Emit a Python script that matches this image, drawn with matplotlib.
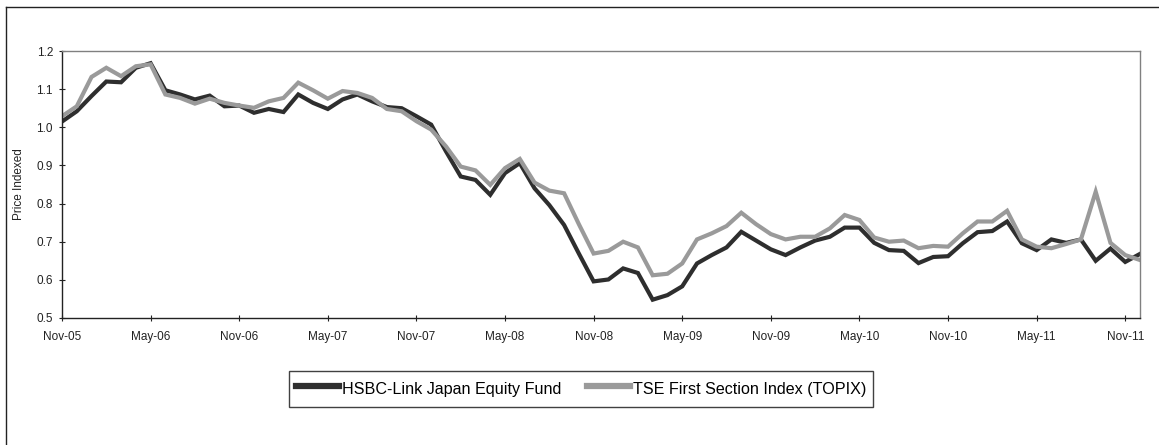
import matplotlib.pyplot as plt
from matplotlib.lines import Line2D

# monthly values, Nov-05 .. Dec-11
fund = [1.015, 1.042, 1.082, 1.12, 1.118, 1.156, 1.168, 1.097, 1.086, 1.073,
        1.083, 1.055, 1.057, 1.038, 1.048, 1.04, 1.086, 1.064, 1.048, 1.073,
        1.086, 1.068, 1.053, 1.05, 1.029, 1.007, 0.937, 0.871, 0.862, 0.823,
        0.88, 0.906, 0.84, 0.796, 0.744, 0.669, 0.596, 0.601, 0.63, 0.618,
        0.548, 0.56, 0.583, 0.643, 0.665, 0.685, 0.726, 0.703, 0.68, 0.665,
        0.685, 0.703, 0.713, 0.737, 0.737, 0.697, 0.678, 0.676, 0.644, 0.66,
        0.662, 0.696, 0.725, 0.728, 0.753, 0.696, 0.678, 0.706, 0.697, 0.706,
        0.65, 0.682, 0.647, 0.668]
topix = [1.029, 1.055, 1.132, 1.156, 1.134, 1.16, 1.165, 1.086, 1.077, 1.062,
         1.075, 1.064, 1.057, 1.051, 1.068, 1.077, 1.117, 1.097, 1.075, 1.095,
         1.09, 1.077, 1.048, 1.042, 1.016, 0.994, 0.95, 0.897, 0.887, 0.849,
         0.893, 0.917, 0.855, 0.834, 0.827, 0.746, 0.669, 0.676, 0.7, 0.685,
         0.612, 0.616, 0.643, 0.706, 0.722, 0.741, 0.776, 0.746, 0.72, 0.706,
         0.713, 0.713, 0.735, 0.77, 0.757, 0.711, 0.7, 0.703, 0.683, 0.689,
         0.687, 0.722, 0.753, 0.753, 0.781, 0.706, 0.687, 0.683, 0.694, 0.706,
         0.831, 0.697, 0.665, 0.652]
tick_labels = ['Nov-05', 'May-06', 'Nov-06', 'May-07', 'Nov-07', 'May-08', 'Nov-08',
               'May-09', 'Nov-09', 'May-10', 'Nov-10', 'May-11', 'Nov-11']
yticks = [0.5, 0.6, 0.7, 0.8, 0.9, 1.0, 1.1, 1.2]

plt.rcParams['font.family'] = ['Liberation Sans', 'DejaVu Sans']

fig = plt.figure(figsize=(11.59, 4.45), dpi=100)
ax = fig.add_axes([62 / 1159, 1 - 318 / 445, (1140 - 62) / 1159, (318 - 51) / 445])

months = list(range(len(fund)))
ax.plot(months, fund, color='#2e2e2e', lw=3.0, solid_joinstyle='miter',
        label='HSBC-Link Japan Equity Fund')
ax.plot(months, topix, color='#9a9a9a', lw=3.0, solid_joinstyle='miter',
        label='TSE First Section Index (TOPIX)')

ax.set_xlim(0, 73)
ax.set_ylim(0.5, 1.2)
ax.set_xticks(range(0, 73, 6))
ax.set_xticklabels(tick_labels)
ax.set_yticks(yticks)
ax.set_yticklabels(['%.1f' % v for v in yticks])
ax.tick_params(axis='both', direction='inout', length=5, width=0.8,
               labelsize=8.5, colors='#222222')
ax.tick_params(axis='x', pad=7)
ax.tick_params(axis='y', pad=4)
ax.set_ylabel('Price Indexed', fontsize=8.5, color='#222222', labelpad=8)

for s in ['top', 'right']:
    ax.spines[s].set_color('#808080')
    ax.spines[s].set_linewidth(1.0)
for s in ['left', 'bottom']:
    ax.spines[s].set_color('#222222')
    ax.spines[s].set_linewidth(1.0)

leg = ax.legend(loc='center', bbox_to_anchor=(581 / 1159, 1 - 389 / 445),
                bbox_transform=fig.transFigure, ncol=2, fontsize=11.6,
                frameon=True, fancybox=False, edgecolor='#111111',
                handlelength=2.7, handleheight=1.8, handletextpad=0.15,
                columnspacing=1.6, borderpad=0.4, borderaxespad=0)
leg.get_frame().set_linewidth(1.0)
for h in leg.get_lines():
    h.set_linewidth(4.5)

# outer chart border
fig.add_artist(Line2D([6 / 1159, 6 / 1159], [0, 1 - 7 / 445], color='#222222', lw=1.0))
fig.add_artist(Line2D([6 / 1159, 1], [1 - 7 / 445, 1 - 7 / 445], color='#222222', lw=1.0))

fig.savefig('out.png', dpi=100)
